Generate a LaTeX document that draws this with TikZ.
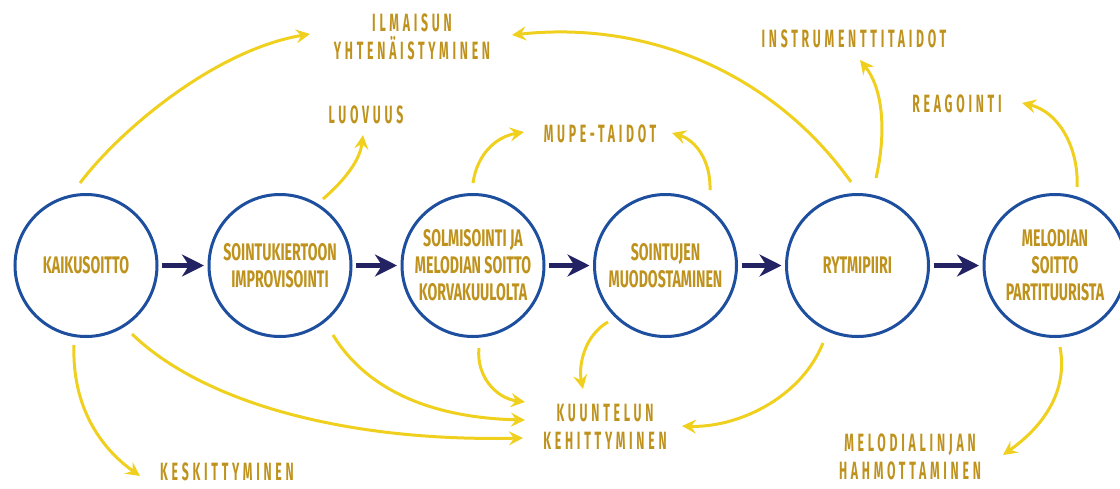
\documentclass[tikz,border=0pt]{standalone}
\usepackage{fontspec}
\usetikzlibrary{arrows.meta,calc}
\newfontfamily\circfont{Fira Sans}[FakeStretch=0.59]
\newfontfamily\lblfont{Fira Sans}[FakeStretch=0.49,LetterSpace=15]
\definecolor{gold}{RGB}{190,146,28}
\definecolor{yel}{RGB}{240,208,30}
\definecolor{cblue}{RGB}{30,78,158}
\definecolor{navy}{RGB}{35,35,100}
\begin{document}
\begin{tikzpicture}[x=1pt,y=1pt,
 stage/.style={circle,draw=cblue,line width=3pt,minimum size=142pt,inner sep=0pt,outer sep=0pt,align=center,text=gold,font=\circfont\bfseries\fontsize{24}{27}\selectfont},
 lbl/.style={align=center,text=gold,inner sep=0pt,font=\lblfont\bfseries\fontsize{25}{28}\selectfont},
 flow/.style={draw=navy,line width=5pt,-{Stealth[length=22pt,width=22pt,inset=7pt]},shorten <=5pt,shorten >=5pt},
 yarr/.style={draw=yel,line width=3pt,-{Stealth[length=14pt,width=14pt,inset=5pt]}}]
\useasboundingbox (0,0) rectangle (1120,-488);

\node[stage] (c1) at (86,-265.5) {KAIKUSOITTO};
\node[stage] (c2) at (280,-265.5) {SOINTUKIERTOON\\IMPROVISOINTI};
\node[stage] (c3) at (473,-265.5) {SOLMISOINTI JA\\MELODIAN SOITTO\\KORVAKUULOLTA};
\node[stage] (c4) at (665.5,-265.5) {SOINTUJEN\\MUODOSTAMINEN};
\node[stage] (c5) at (857.5,-265.5) {RYTMIPIIRI};
\node[stage] (c6) at (1055,-265.5) {MELODIAN\\SOITTO\\PARTITUURISTA};

\node[lbl] (ilm) at (412,-37) {ILMAISUN\\YHTENÄISTYMINEN};
\node[lbl] (ins) at (854,-38.5) {INSTRUMENTTITAIDOT};
\node[lbl] (luo) at (366,-115) {LUOVUUS};
\node[lbl] (mup) at (600,-134) {MUPE-TAIDOT};
\node[lbl] (rea) at (957,-104) {REAGOINTI};
\node[lbl] (kuu) at (605,-427) {KUUNTELUN\\KEHITTYMINEN};
\node[lbl] (kes) at (227,-472) {KESKITTYMINEN};
\node[lbl] (mel) at (910,-457) {MELODIALINJAN\\HAHMOTTAMINEN};

\draw[flow] (c1) -- (c2);
\draw[flow] (c2) -- (c3);
\draw[flow] (c3) -- (c4);
\draw[flow] (c4) -- (c5);
\draw[flow] (c5) -- (c6);

\draw[yarr] ($(c1)+(-6,82.5)$) .. controls (120,-130) and (215,-50) .. ($(ilm)+(-102,3)$);
\draw[yarr] ($(c5)+(-6.5,83.5)$) .. controls (775,-75) and (650,-20) .. ($(ilm)+(100,2)$);
\draw[yarr] ($(c2)+(43,66.5)$) .. controls (345,-180) and (360,-160) .. ($(luo)+(-3,-20)$);
\draw[yarr] ($(c3)+(0,82.5)$) .. controls (477,-155) and (495,-137) .. ($(mup)+(-76,2)$);
\draw[yarr] ($(c4)+(44.5,75.5)$) .. controls (711,-160) and (695,-140) .. ($(mup)+(72,1)$);
\draw[yarr] ($(c5)+(18.5,87.5)$) .. controls (886,-135) and (884,-90) .. ($(ins)+(6,-21.5)$);
\draw[yarr] ($(c6)+(22,78.5)$) .. controls (1079,-150) and (1060,-112) .. ($(rea)+(65,1)$);
\draw[yarr] ($(c1)+(-12,-79.5)$) .. controls (72,-400) and (95,-444) .. ($(kes)+(-87,-4)$);
\draw[yarr] ($(c1)+(46,-68.5)$) .. controls (200,-400) and (340,-442) .. ($(kuu)+(-82,-11)$);
\draw[yarr] ($(c2)+(53,-69.5)$) .. controls (370,-395) and (440,-418) .. ($(kuu)+(-80,7)$);
\draw[yarr] ($(c3)+(6,-82.5)$) .. controls (476,-375) and (495,-398) .. ($(kuu)+(-80,25)$);
\draw[yarr] ($(c4)+(-57.5,-56.5)$) .. controls (585,-335) and (578,-365) .. ($(kuu)+(-22,38)$);
\draw[yarr] ($(c5)+(-34.5,-77.5)$) .. controls (800,-400) and (735,-428) .. ($(kuu)+(77,1)$);
\draw[yarr] ($(c6)+(5,-81.5)$) .. controls (1068,-390) and (1045,-425) .. ($(mel)+(93,2)$);
\end{tikzpicture}
\end{document}
